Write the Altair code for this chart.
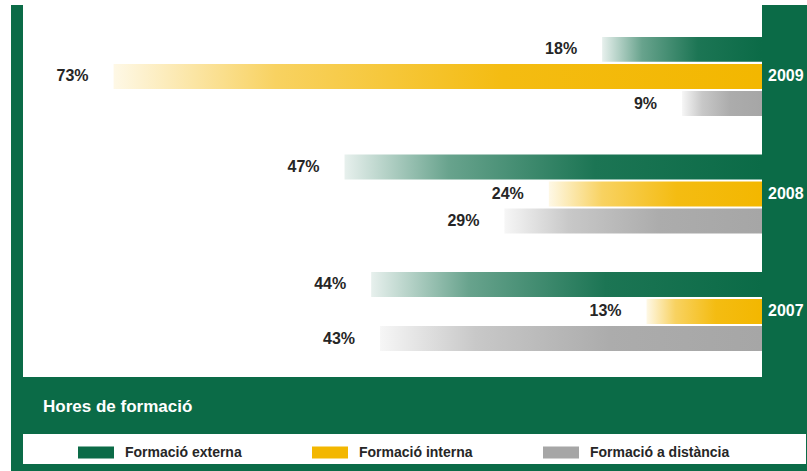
import altair as alt
import pandas as pd

# ---- data ----
years = ["2009", "2008", "2007"]
series = ["Formació externa", "Formació interna", "Formació a distància"]
externa = [18, 47, 44]
interna = [73, 24, 13]
distancia = [9, 29, 43]
title_text = "Hores de formació"

GREEN = "#0b6b47"
YELLOW = "#f3b700"
GRAY = "#a6a6a6"
LABEL = "#262626"
FONT = "Liberation Sans, Arial, sans-serif"

rows = []
for i, y in enumerate(years):
    for s, vals in zip(series, [externa, interna, distancia]):
        rows.append({"year": y, "serie": s, "value": vals[i], "label": f"{vals[i]}%"})
df = pd.DataFrame(rows)


def blend(hexc, t):
    hexc = hexc.lstrip("#")
    r, g, b = (int(hexc[k:k + 2], 16) for k in (0, 2, 4))
    mix = lambda c: round(255 + (c - 255) * t)
    return "#{:02x}{:02x}{:02x}".format(mix(r), mix(g), mix(b))


def grad(c):
    return alt.LinearGradient(
        gradient="linear", x1=0, x2=1, y1=0, y2=0,
        stops=[alt.GradientStop(color=blend(c, 0.10), offset=0),
               alt.GradientStop(color=blend(c, 0.62), offset=0.25),
               alt.GradientStop(color=blend(c, 0.93), offset=0.6),
               alt.GradientStop(color=c, offset=1)])


W, H = 739, 377

xs = alt.X("value:Q", scale=alt.Scale(domain=[0, 83.2], reverse=True, nice=False, zero=True), axis=None)
ys = alt.Y("year:N", sort=years, axis=None,
           scale=alt.Scale(paddingInner=0.328, paddingOuter=0.268, align=0.587))
yo = alt.YOffset("serie:N", sort=series, scale=alt.Scale(paddingInner=0.08, paddingOuter=0))

base = alt.Chart(df)

bars = []
for s, c in zip(series, [GREEN, YELLOW, GRAY]):
    bars.append(
        base.transform_filter(alt.datum.serie == s)
        .mark_bar(color=grad(c), cornerRadius=0, strokeWidth=0)
        .encode(x=xs, x2=alt.datum(0), y=ys, yOffset=yo)
    )

labels = base.mark_text(align="right", baseline="middle", dx=-25, font=FONT,
                        fontWeight="bold", fontSize=16, color=LABEL).encode(
    x=xs, y=ys, yOffset=yo, text="label:N")

year_df = pd.DataFrame({"year": years})
year_txt = alt.Chart(year_df).mark_text(align="left", baseline="middle", font=FONT,
                                        fontWeight="bold", fontSize=16, color="white").encode(
    y=ys, x=alt.value(W + 6), text="year:N")

one = pd.DataFrame({"t": [title_text]})
title_mark = alt.Chart(one).mark_text(align="left", baseline="middle", font=FONT,
                                      fontWeight="bold", fontSize=17, color="white").encode(
    x=alt.value(20), y=alt.value(407), text="t:N")

top_white = alt.Chart(one).mark_rect(color="white").encode(
    x=alt.value(-23), x2=alt.value(784), y=alt.value(0), y2=alt.value(5))
left_white = alt.Chart(one).mark_rect(color="white").encode(
    x=alt.value(-23), x2=alt.value(-12), y=alt.value(0), y2=alt.value(471))
legend_strip = alt.Chart(one).mark_rect(color="white").encode(
    x=alt.value(0), x2=alt.value(783), y=alt.value(434), y2=alt.value(464))

legend_layer = base.mark_point(filled=True, opacity=0).encode(
    x=xs, y=ys,
    color=alt.Color("serie:N", sort=series,
                    scale=alt.Scale(domain=series, range=[GREEN, YELLOW, GRAY]),
                    legend=alt.Legend(
                        title=None, orient="none", legendX=55, legendY=434.5,
                        direction="horizontal",
                        symbolType="M-1,-0.333H1V0.333H-1Z", symbolSize=1296,
                        symbolOpacity=1, symbolStrokeWidth=0,
                        labelFont=FONT, labelFontWeight="bold", labelFontSize=14,
                        labelColor=LABEL, labelOffset=11, labelLimit=300,
                        columnPadding=70)))

chart = alt.layer(
    top_white, left_white, legend_strip, *bars, labels, year_txt, title_mark, legend_layer
).properties(
    width=W, height=H,
    autosize=alt.AutoSizeParams(type="none"),
    padding={"left": 23, "top": 0, "right": 45, "bottom": 94},
    background=GREEN,
).configure_view(fill="white", strokeWidth=0)

chart.save("out.html", embed_options={"renderer": "svg", "actions": False})
